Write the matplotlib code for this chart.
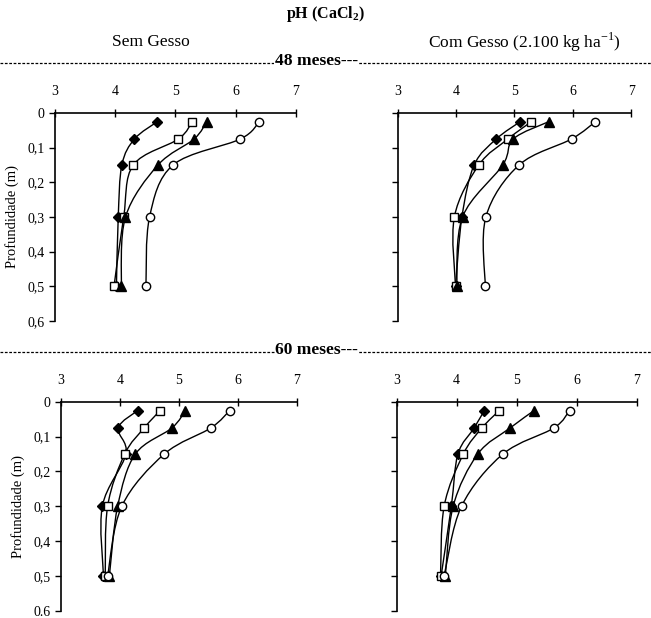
import numpy as np
import matplotlib
matplotlib.use('Agg')
import matplotlib.pyplot as plt
from matplotlib.path import Path
from matplotlib.patches import PathPatch
from matplotlib.lines import Line2D

plt.rcParams['font.family'] = ['Liberation Serif', 'DejaVu Serif']
plt.rcParams['mathtext.fontset'] = 'custom'
plt.rcParams['mathtext.rm'] = 'Liberation Serif'
plt.rcParams['mathtext.bf'] = 'Liberation Serif:bold'

depth = [0.025, 0.075, 0.15, 0.3, 0.5]

# pH values per panel, series: diamond, square, triangle, circle
ph48_sem_diamond = [4.70, 4.32, 4.11, 4.05, 4.02]
ph48_sem_square = [5.28, 5.05, 4.30, 4.14, 3.98]
ph48_sem_triangle = [5.52, 5.31, 4.71, 4.17, 4.10]
ph48_sem_circle = [6.39, 6.08, 4.96, 4.57, 4.51]

ph48_com_diamond = [5.10, 4.69, 4.31, 4.10, 3.99]
ph48_com_square = [5.29, 4.89, 4.39, 3.97, 3.99]
ph48_com_triangle = [5.59, 4.98, 4.80, 4.11, 4.01]
ph48_com_circle = [6.39, 5.98, 5.08, 4.51, 4.50]

ph60_sem_diamond = [4.30, 3.97, 4.10, 3.70, 3.72]
ph60_sem_square = [4.68, 4.41, 4.08, 3.79, 3.75]
ph60_sem_triangle = [5.11, 4.88, 4.26, 3.96, 3.82]
ph60_sem_circle = [5.86, 5.54, 4.75, 4.03, 3.79]

ph60_com_diamond = [4.46, 4.29, 4.02, 3.91, 3.74]
ph60_com_square = [4.71, 4.42, 4.11, 3.79, 3.73]
ph60_com_triangle = [5.29, 4.89, 4.35, 3.94, 3.81]
ph60_com_circle = [5.88, 5.62, 4.77, 4.08, 3.79]

x_ticks = [3, 4, 5, 6, 7]
y_ticks = [0, 0.1, 0.2, 0.3, 0.4, 0.5, 0.6]
y_labels = ['0', '0,1', '0,2', '0,3', '0,4', '0,5', '0,6']

markers = [('D', 'black', 5), ('s', 'white', 6), ('^', 'black', 6.5), ('o', 'white', 6)]


def smooth_line(ax, xs, ys):
    # excel-like smoothed line: catmull-rom as cubic bezier, in scaled space
    sx, sy = 60.0, 347.0
    p = np.column_stack([np.array(xs) * sx, np.array(ys) * sy])
    n = len(p)
    verts = [p[0]]
    codes = [Path.MOVETO]
    for i in range(n - 1):
        p0 = p[i - 1] if i > 0 else p[i]
        p1, p2 = p[i], p[i + 1]
        p3 = p[i + 2] if i + 2 < n else p[i + 1]
        c1 = p1 + (p2 - p0) / 6.0
        c2 = p2 - (p3 - p1) / 6.0
        verts += [c1, c2, p2]
        codes += [Path.CURVE4] * 3
    verts = np.array(verts) / [sx, sy]
    ax.add_patch(PathPatch(Path(verts, codes), fill=False, lw=1.0, color='black', zorder=2))


def panel(rect, series, show_ylabels, ylabels):
    ax = fig.add_axes(rect)
    for vals, (m, fc, ms) in zip(series, markers):
        smooth_line(ax, vals, depth)
        ax.plot(vals, depth, ls='none', marker=m, ms=ms, mfc=fc, mec='black', mew=1.0, zorder=3)
    ax.set_xlim(3, 7)
    ax.set_ylim(0.6, 0)
    ax.spines['right'].set_visible(False)
    ax.spines['bottom'].set_visible(False)
    ax.spines['top'].set_linewidth(1.2)
    ax.spines['left'].set_linewidth(1.2)
    ax.xaxis.tick_top()
    ax.set_xticks(x_ticks)
    ax.set_yticks(y_ticks)
    ax.tick_params(axis='x', direction='inout', length=6, width=1.0, labelsize=10, pad=8)
    ax.tick_params(axis='y', direction='out', length=4, width=1.0, labelsize=10)
    if show_ylabels:
        ax.set_yticklabels(ylabels)
        ax.set_ylabel('Profundidade (m)', fontsize=10.5, labelpad=6)
    else:
        ax.set_yticklabels([])
    return ax


fig = plt.figure(figsize=(6.51, 6.18), dpi=100)

panel([0.0845, 0.4806, 0.370, 0.3366],
      [ph48_sem_diamond, ph48_sem_square, ph48_sem_triangle, ph48_sem_circle], True, y_labels)
panel([0.611, 0.4806, 0.3584, 0.3366],
      [ph48_com_diamond, ph48_com_square, ph48_com_triangle, ph48_com_circle], False, y_labels)
panel([0.0937, 0.0118, 0.3625, 0.338],
      [ph60_sem_diamond, ph60_sem_square, ph60_sem_triangle, ph60_sem_circle], True,
      y_labels[:-1] + ['0.6'])
panel([0.6094, 0.0118, 0.3687, 0.338],
      [ph60_com_diamond, ph60_com_square, ph60_com_triangle, ph60_com_circle], False, y_labels)

fig.text(0.5, 1 - 14 / 618, r'pH (CaCl$_\mathbf{2}$)', ha='center', va='center', fontsize=11.5, fontweight='bold')
fig.text(0.232, 1 - 42 / 618, 'Sem Gesso', ha='center', va='center', fontsize=12.5)
fig.text(0.806, 1 - 42 / 618, r'Com Gesso (2.100 kg ha$^{-1}$)', ha='center', va='center', fontsize=12.5)

for y_px, label in [(63, '48 meses---'), (352, '60 meses---')]:
    yf = 1 - y_px / 618
    fig.add_artist(Line2D([0, 1], [yf, yf], transform=fig.transFigure, color='black',
                          lw=0.9, dashes=(2.2, 1.3)))
    fig.text(0.486, yf + 0.003, label, ha='center', va='center', fontsize=12.5, fontweight='bold',
             bbox=dict(facecolor='white', edgecolor='none', pad=0.3))

fig.savefig('out.png', dpi=100)
